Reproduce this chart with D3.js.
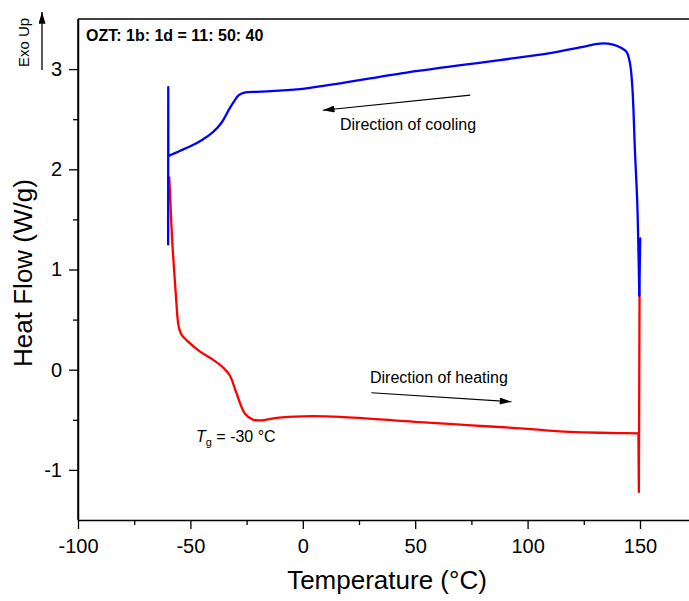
<!DOCTYPE html>
<html><head><meta charset="utf-8">
<script src="https://cdn.jsdelivr.net/npm/d3@7"></script>
<style>body{margin:0;background:#fff}svg{display:block;font-family:Arial,"Liberation Sans",sans-serif}</style>
</head><body>
<svg id="c" width="689" height="601"></svg>
<script>
// Data (Temperature °C, Heat Flow W/g)
// Cooling run (blue): spike at 150 °C, smooth trace, spike at -60 °C
const coolSpike150T = [150.1,149.7];
const coolSpike150HF = [1.31,0.74];
const coolingT = [-59.1,-55,-50,-45,-40,-36,-33,-30.5,-28.5,-26,-19,-1.2,46.2,87.7,110,124,132.2,138,141.8,144.1,145.6,146.6,147.8,148.8,149.3,149.7];
const coolingHF = [2.14,2.18,2.23,2.29,2.37,2.47,2.59,2.68,2.74,2.765,2.775,2.80,2.965,3.09,3.16,3.22,3.255,3.245,3.21,3.17,3.05,2.82,2.16,1.66,1.2,0.74];
const coolSpike60T = [-59.1,-59.8,-59.85,-59.9];
const coolSpike60HF = [2.14,2.13,2.82,1.25];
// Heating run (red)
const heatingT = [-59.4,-58.1,-56.8,-56.2,-55.7,-55.0,-53.8,-51.5,-48.5,-45.7,-40,-35.4,-32.4,-29.4,-25.7,-22,-18,-11.6,0,16.5,50,75,100,114.4,125,140,149.3];
const heatingHF = [1.92,1.29,0.85,0.66,0.51,0.41,0.345,0.29,0.23,0.18,0.10,0.02,-0.06,-0.24,-0.44,-0.50,-0.505,-0.48,-0.465,-0.47,-0.52,-0.555,-0.59,-0.615,-0.625,-0.633,-0.635];
const heatSpikeT = [149.3,149.5,149.8];
const heatSpikeHF = [-0.635,-1.22,0.74];
const xTicks = [-100,-50,0,50,100,150];
const yTicks = [-1,0,1,2,3];
const xMinor = [-75,-25,25,75,125];
const yMinor = [-0.5,0.5,1.5,2.5];

const svg = d3.select("#c");
const L=78, R=689, T=19, B=520;
const x = d3.scaleLinear().domain([-100,171.8]).range([L,R]);
const y = d3.scaleLinear().domain([-1.5,3.5]).range([B,T]);

svg.append("defs").append("marker").attr("id","ah").attr("viewBox","0 0 10 6")
  .attr("refX",10).attr("refY",3).attr("markerWidth",12).attr("markerHeight",7)
  .attr("markerUnits","userSpaceOnUse").attr("orient","auto")
  .append("path").attr("d","M0,0L10,3L0,6Z").attr("fill","#000");

const fmt = d => String(d);
svg.append("g").attr("transform",`translate(0,${B})`)
  .call(d3.axisBottom(x).tickValues(xTicks).tickSize(9).tickSizeOuter(0).tickPadding(10).tickFormat(fmt));
svg.append("g").attr("transform",`translate(0,${B})`)
  .call(d3.axisBottom(x).tickValues(xMinor).tickSize(5).tickSizeOuter(0).tickFormat(""))
  .select(".domain").remove();
svg.append("g").attr("transform",`translate(${L},0)`)
  .call(d3.axisLeft(y).tickValues(yTicks).tickSize(9).tickSizeOuter(0).tickPadding(7).tickFormat(fmt));
svg.append("g").attr("transform",`translate(${L},0)`)
  .call(d3.axisLeft(y).tickValues(yMinor).tickSize(5).tickSizeOuter(0).tickFormat(""))
  .select(".domain").remove();
svg.selectAll(".tick line").attr("stroke","#000").attr("stroke-width",1.3);
svg.selectAll(".domain").attr("stroke","#000").attr("stroke-width",1.5);
svg.selectAll(".tick text").attr("font-size",20).attr("fill","#000").attr("font-family","Arial, 'Liberation Sans', sans-serif");
svg.append("line").attr("x1",L).attr("x2",R).attr("y1",T).attr("y2",T).attr("stroke","#000").attr("stroke-width",1.5);
svg.append("line").attr("x1",L).attr("x2",L).attr("y1",T).attr("y2",B).attr("stroke","#000").attr("stroke-width",1.5);

const zip = (a,b) => a.map((t,i)=>[t,b[i]]);
const smooth = d3.line().x(d=>x(d[0])).y(d=>y(d[1])).curve(d3.curveCatmullRom.alpha(0.5));
const straight = d3.line().x(d=>x(d[0])).y(d=>y(d[1]));
function draw(gen, data, color){
  svg.append("path").datum(data).attr("d",gen).attr("fill","none").attr("stroke",color)
    .attr("stroke-width",2.3).attr("stroke-linejoin","round").attr("stroke-linecap","round");
}
draw(smooth, zip(heatingT,heatingHF), "#ff0000");
draw(straight, zip(heatSpikeT,heatSpikeHF), "#ff0000");
draw(straight, zip(coolSpike150T,coolSpike150HF), "#0000ff");
draw(smooth, zip(coolingT,coolingHF), "#0000ff");
draw(straight, zip(coolSpike60T,coolSpike60HF), "#0000ff");

svg.append("text").attr("x",387).attr("y",589).attr("text-anchor","middle").attr("font-size",26).text("Temperature (°C)");
svg.append("text").attr("transform","translate(32,273) rotate(-90)").attr("text-anchor","middle").attr("font-size",26).text("Heat Flow (W/g)");

svg.append("text").attr("transform","translate(29,42.5) rotate(-90)").attr("text-anchor","middle").attr("font-size",15).text("Exo Up");
svg.append("line").attr("x1",42).attr("x2",42).attr("y1",70).attr("y2",12).attr("stroke","#000").attr("stroke-width",1.3).attr("marker-end","url(#ah)");

svg.append("text").attr("x",86).attr("y",41).attr("font-size",16).attr("font-weight","bold").text("OZT: 1b: 1d = 11: 50: 40");

svg.append("line").attr("x1",x(74.5)).attr("y1",y(2.74)).attr("x2",x(8.9)).attr("y2",y(2.59))
  .attr("stroke","#000").attr("stroke-width",1.1).attr("marker-end","url(#ah)");
svg.append("text").attr("x",340).attr("y",130).attr("font-size",16).text("Direction of cooling");
svg.append("line").attr("x1",x(30.5)).attr("y1",y(-0.23)).attr("x2",x(92.8)).attr("y2",y(-0.32))
  .attr("stroke","#000").attr("stroke-width",1.1).attr("marker-end","url(#ah)");
svg.append("text").attr("x",370).attr("y",383).attr("font-size",16).text("Direction of heating");
const tg = svg.append("text").attr("x",196).attr("y",442).attr("font-size",16);
tg.append("tspan").attr("font-style","italic").text("T");
tg.append("tspan").attr("font-size",11).attr("dy",4).text("g");
tg.append("tspan").attr("dy",-4).text(" = -30 °C");
</script>
</body></html>
